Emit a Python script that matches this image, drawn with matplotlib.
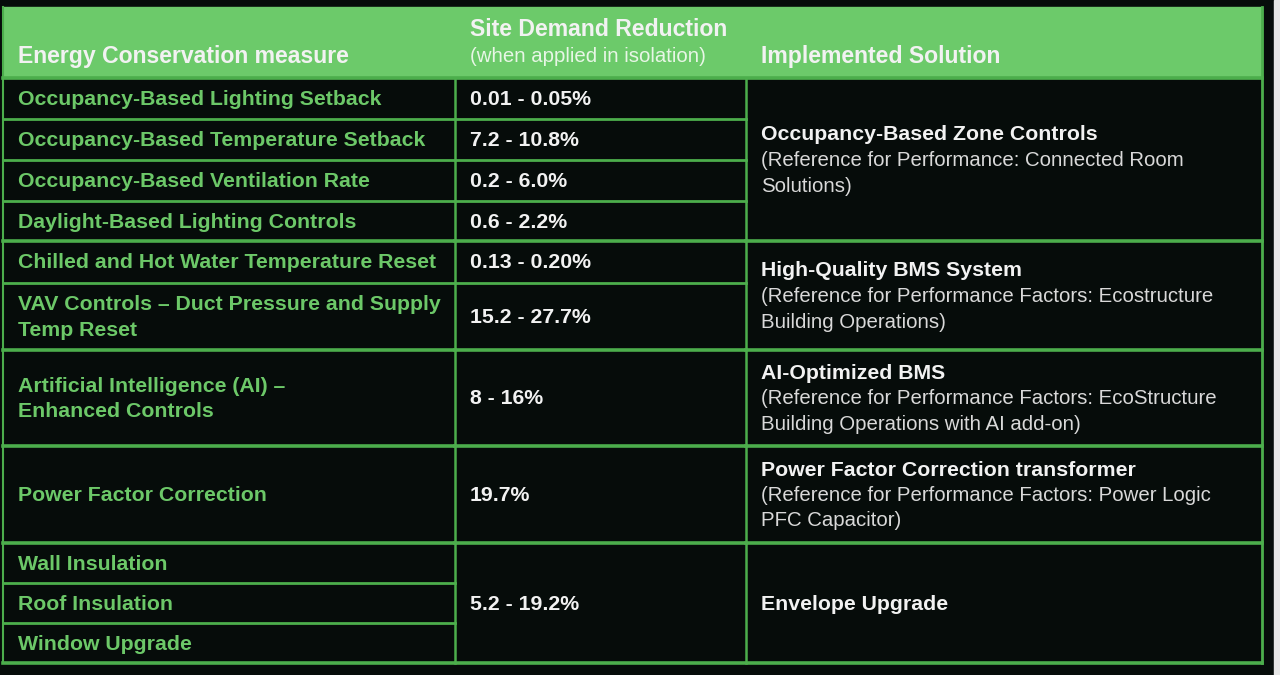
import matplotlib.pyplot as plt
from matplotlib.patches import Rectangle

# table content
headers = ["Energy Conservation measure", "Site Demand Reduction", "Implemented Solution"]
header_note = "(when applied in isolation)"

measures = [
    "Occupancy-Based Lighting Setback",
    "Occupancy-Based Temperature Setback",
    "Occupancy-Based Ventilation Rate",
    "Daylight-Based Lighting Controls",
    "Chilled and Hot Water Temperature Reset",
    "VAV Controls \u2013 Duct Pressure and Supply\nTemp Reset",
    "Artificial Intelligence (AI) \u2013\nEnhanced Controls",
    "Power Factor Correction",
    "Wall Insulation",
    "Roof Insulation",
    "Window Upgrade",
]

# (value, number of rows spanned)
reductions = [
    ("0.01 - 0.05%", 1),
    ("7.2 - 10.8%", 1),
    ("0.2 - 6.0%", 1),
    ("0.6 - 2.2%", 1),
    ("0.13 - 0.20%", 1),
    ("15.2 - 27.7%", 1),
    ("8 - 16%", 1),
    ("19.7%", 1),
    ("5.2 - 19.2%", 3),
]

# (title, reference note, number of rows spanned)
solutions = [
    ("Occupancy-Based Zone Controls",
     "(Reference for Performance: Connected Room\nSolutions)", 4),
    ("High-Quality BMS System",
     "(Reference for Performance Factors: Ecostructure\nBuilding Operations)", 2),
    ("AI-Optimized BMS",
     "(Reference for Performance Factors: EcoStructure\nBuilding Operations with AI add-on)", 1),
    ("Power Factor Correction transformer",
     "(Reference for Performance Factors: Power Logic\nPFC Capacitor)", 1),
    ("Envelope Upgrade", "", 3),
]

# layout (pixels)
row_heights = [41, 41, 41, 40, 42, 67, 96, 97, 40, 40, 40]
col_x = [3, 455, 746, 1262]
top, head_bottom = 7, 78
pad = 15
line_gap = 25.5

bg = "#060c0a"
green = "#6cca6a"
text_green = "#6cc868"
line_green = "#4cae4c"
white = "#f2f2f2"
grey = "#d9d9d9"

fs_head = 16.6
fs = 15.3
fs_note = 14.7

plt.rcParams['font.family'] = ['Liberation Sans', 'DejaVu Sans']
fig = plt.figure(figsize=(12.8, 6.75), dpi=100, facecolor=bg)
ax = fig.add_axes([0, 0, 1, 1])
ax.set_xlim(0, 1280)
ax.set_ylim(675, 0)
ax.axis('off')
ax.set_facecolor(bg)

# light strip at right edge of the screenshot
ax.add_patch(Rectangle((1274, 0), 6, 675, color="#e6e6e6", zorder=0))

# header band
ax.add_patch(Rectangle((col_x[0], top), col_x[3] - col_x[0], head_bottom - top,
                       color=green, zorder=1))
ax.text(col_x[0] + pad, 56, headers[0], color=white, fontsize=fs_head, fontweight='bold', va='center')
ax.text(col_x[1] + pad, 30, headers[1], color=white, fontsize=fs_head, fontweight='bold', va='center')
ax.text(col_x[1] + pad, 57, header_note, color="#e8f6e6", fontsize=fs_note, va='center')
ax.text(col_x[2] + pad, 56, headers[2], color=white, fontsize=fs_head, fontweight='bold', va='center')

# row boundaries
bounds = [head_bottom]
for h in row_heights:
    bounds.append(bounds[-1] + h)
bottom = bounds[-1]


def group_ends(spans):
    ends, i = set(), 0
    for s in spans:
        i += s
        ends.add(i)
    return ends


red_ends = group_ends([s for _, s in reductions])
sol_ends = group_ends([s for _, _, s in solutions])

lw_major, lw_minor = 2.6, 2.0
for i in range(1, len(row_heights)):
    y = bounds[i]
    major = i in red_ends and i in sol_ends
    lw = lw_major if major else lw_minor
    ax.plot([col_x[0], col_x[1]], [y, y], color=line_green, lw=lw, zorder=2)
    if i in red_ends:
        ax.plot([col_x[1], col_x[2]], [y, y], color=line_green, lw=lw, zorder=2)
    if i in sol_ends:
        ax.plot([col_x[2], col_x[3]], [y, y], color=line_green, lw=lw, zorder=2)

# outer frame and column separators
ax.plot([col_x[0], col_x[3]], [head_bottom, head_bottom], color=line_green, lw=lw_major, zorder=2)
ax.plot([col_x[0], col_x[3]], [bottom, bottom], color=line_green, lw=lw_major, zorder=2)
ax.plot([col_x[0], col_x[0]], [top, bottom], color=line_green, lw=1.5, zorder=2)
ax.plot([col_x[3], col_x[3]], [top, bottom], color=line_green, lw=2.0, zorder=2)
for x in col_x[1:3]:
    ax.plot([x, x], [head_bottom, bottom], color=line_green, lw=1.8, zorder=2)

# first column
for i, m in enumerate(measures):
    yc = (bounds[i] + bounds[i + 1]) / 2 + 1
    lines = m.split("\n")
    for k, ln in enumerate(lines):
        y = yc + (k - (len(lines) - 1) / 2) * 25
        ax.text(col_x[0] + pad, y, ln, color=text_green, fontsize=fs,
                fontweight='bold', va='center', zorder=3)

# second column
r = 0
for val, span in reductions:
    yc = (bounds[r] + bounds[r + span]) / 2 + 1
    ax.text(col_x[1] + pad, yc, val, color=white, fontsize=fs,
            fontweight='bold', va='center', zorder=3)
    r += span

# third column
r = 0
for title, note, span in solutions:
    yc = (bounds[r] + bounds[r + span]) / 2 + 1
    note_lines = note.split("\n") if note else []
    n = 1 + len(note_lines)
    y0 = yc - (n - 1) / 2 * line_gap
    ax.text(col_x[2] + pad, y0, title, color=white, fontsize=fs,
            fontweight='bold', va='center', zorder=3)
    for k, ln in enumerate(note_lines):
        ax.text(col_x[2] + pad, y0 + (k + 1) * line_gap, ln, color=grey,
                fontsize=fs_note, va='center', zorder=3)
    r += span

fig.savefig("out.png", dpi=100, facecolor=bg)
